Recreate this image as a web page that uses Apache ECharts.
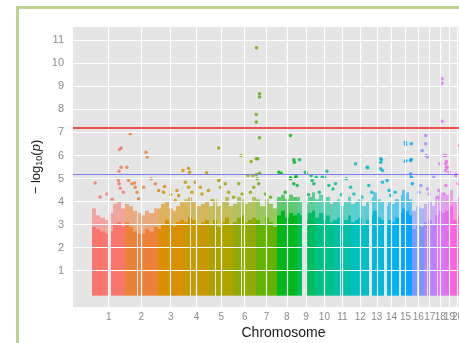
<!DOCTYPE html>
<html>
<head>
<meta charset="utf-8">
<script src="https://cdn.jsdelivr.net/npm/echarts@6/dist/echarts.min.js"></script>
<style>
  html, body { margin: 0; padding: 0; background: #fff; }
  #chart { width: 459px; height: 343px; }
</style>
</head>
<body>
<div id="chart"></div>
<script>
// chromosome lengths (Mb) and tick labels
const CHR_LEN = [249, 243, 198, 191, 181, 171, 159, 146, 141, 136, 135, 134, 115, 107, 103, 90, 81, 78, 59, 63, 48, 51]
const CHR_LABELS = ['1', '2', '3', '4', '5', '6', '7', '8', '9', '10', '11', '12', '13', '14', '15', '16', '17', '18', '19', '20', '21', '22']
const Y_TICKS = [1, 2, 3, 4, 5, 6, 7, 8, 9, 10, 11]
const GENOME_WIDE = 7.2
const SUGGESTIVE = 5.2

// top of the dense SNP cloud, per chromosome, in equal segments
const BODY_SOLID = [
  [2.9, 2.8, 2.7, 2.6, 2.7, 3.0, 3.1, 2.9],
  [3.1, 2.9, 2.7, 2.6, 2.6, 2.8, 2.7, 2.9],
  [2.8, 3.0, 3.2, 3.0, 2.9, 3.1, 3.2],
  [3.1, 3.3, 3.2, 3.0, 3.1, 3.2],
  [3.0, 3.2, 2.9, 3.1, 3.3, 3.0],
  [3.1, 3.3, 3.4, 3.1, 3.2, 3.3],
  [3.2, 3.0, 3.3, 3.1, 2.9],
  [3.4, 3.6, 3.3, 3.5, 3.4],
  [3.5, 3.4, 3.2, 3.5, 3.6],
  [3.3, 3.5, 3.2, 3.4, 3.1],
  [3.2, 3.3, 3.0, 3.2, 3.4],
  [3.1, 3.2, 3.3, 3.0, 3.2],
  [3.4, 3.6, 3.3, 3.2],
  [3.0, 3.2, 3.1, 3.3],
  [3.5, 3.7, 3.6, 3.4],
  [2.8, 3.0, 2.9],
  [3.1, 3.2, 3.0],
  [3.4, 3.6, 3.5],
  [3.6, 3.8],
  [3.2, 3.4],
  [3.1, 3.0],
  [3.0, 3.2]
]
// top of the speckled (thinner) part of the cloud
const BODY_SPECKLE = [
  [3.7, 3.4, 3.3, 3.2, 3.5, 3.9, 4.0, 3.7],
  [3.9, 3.8, 3.6, 3.5, 3.4, 3.6, 3.5, 3.7],
  [3.7, 3.9, 4.0, 3.7, 3.6, 3.8, 4.0],
  [4.1, 4.2, 4.0, 3.8, 3.9, 4.0],
  [3.8, 4.1, 3.8, 4.0, 4.2, 3.8],
  [3.9, 4.2, 4.1, 3.9, 4.0, 4.2],
  [4.1, 3.8, 4.1, 3.9, 3.7],
  [4.2, 4.3, 4.1, 4.3, 4.2],
  [4.2, 4.0, 3.9, 4.2, 4.4],
  [4.1, 4.3, 4.0, 4.2, 3.9],
  [4.0, 4.1, 3.8, 4.0, 4.2],
  [3.9, 4.0, 4.1, 3.8, 4.0],
  [4.2, 4.4, 4.1, 4.0],
  [3.8, 4.0, 3.9, 4.1],
  [4.3, 4.5, 4.4, 4.1],
  [3.6, 3.8, 3.7],
  [3.9, 4.0, 3.8],
  [4.2, 4.4, 4.3],
  [4.3, 4.5],
  [4.0, 4.2],
  [3.8, 3.7],
  [3.7, 3.9]
]
// regions without SNPs: [chr, start Mb, end Mb]
const GAPS = [
  [1, 121, 143], [2, 90, 96], [3, 90, 94], [4, 49, 53], [5, 46, 50], [6, 58, 62],
  [7, 58, 62], [8, 43, 47], [9, 39, 70], [10, 39, 43], [11, 51, 55], [12, 34, 38],
  [13, 0, 19], [14, 0, 19], [15, 0, 20], [16, 35, 46], [17, 22, 25], [18, 15, 19],
  [19, 24, 28], [20, 26, 30], [21, 0, 14], [22, 0, 16]
]
// single SNPs standing out of the cloud: [chr, position Mb, -log10(p)]
const PEAKS = [
  [1, 23, 4.81], [1, 60, 4.2], [1, 111, 4.33], [1, 150, 4.1], [1, 198, 4.91], [1, 203, 4.77], [1, 211, 4.58],
  [1, 203, 5.32], [1, 206, 6.26], [1, 219, 6.32], [1, 218, 5.49], [1, 235, 4.4],
  [2, 12, 5.49], [2, 25, 4.91], [2, 38, 6.94], [2, 50, 4.77], [2, 70, 4.81], [2, 75, 4.62], [2, 88, 4.4],
  [2, 100, 4.12], [2, 138, 4.62], [2, 156, 6.14], [2, 166, 5.93], [2, 196, 4.99], [2, 226, 4.77],
  [3, 8, 4.48], [3, 45, 4.4], [3, 53, 4.65], [3, 100, 4.3], [3, 134, 4.04], [3, 146, 4.48], [3, 159, 4.26], [3, 191, 5.35],
  [4, 11, 4.84], [4, 35, 5.45], [4, 36, 4.62], [4, 43, 5.27], [4, 61, 4.4], [4, 86, 4.84], [4, 124, 4.62],
  [4, 136, 4.33], [4, 171, 5.25], [4, 185, 4.48],
  [5, 21, 4.04], [5, 71, 6.33], [5, 71, 4.91], [5, 73, 4.96], [5, 84, 4.62], [5, 121, 4.77], [5, 146, 4.4],
  [6, 3, 4.19], [6, 41, 4.77], [6, 58, 6.0], [6, 66, 4.33], [6, 110, 5.13], [6, 129, 4.4], [6, 134, 5.74],
  [6, 146, 5.13], [6, 154, 4.62],
  [7, 3, 10.68], [7, 26, 8.68], [7, 26, 8.54], [7, 2, 7.78], [7, 2, 7.45], [7, 26, 6.77], [7, 1, 5.86],
  [7, 13, 5.86], [7, 2, 5.17], [7, 26, 5.23], [7, 8, 4.99], [7, 20, 4.77], [7, 71, 4.33], [7, 109, 4.19],
  [8, 12, 5.27], [8, 30, 5.23], [8, 60, 4.4], [8, 100, 6.87], [8, 100, 5.03], [8, 100, 4.99], [8, 125, 5.81],
  [8, 125, 4.77], [8, 130, 5.71], [8, 138, 5.06], [8, 143, 5.09],
  [9, 5, 4.7], [9, 22, 5.81], [9, 67, 5.27], [9, 72, 5.23], [9, 90, 4.3], [9, 110, 5.13], [9, 117, 4.91], [9, 130, 4.77],
  [10, 7, 5.06], [10, 30, 4.4], [10, 52, 5.06], [10, 70, 5.06], [10, 87, 5.32], [10, 102, 4.7], [10, 132, 4.55],
  [11, 16, 4.77], [11, 60, 4.3], [11, 97, 4.99], [11, 129, 4.62],
  [12, 19, 4.33], [12, 31, 5.64], [12, 80, 4.2], [12, 119, 5.49], [12, 124, 5.47], [12, 131, 4.7],
  [13, 20, 4.4], [13, 87, 5.86], [13, 87, 5.71], [13, 87, 5.42], [13, 92, 5.81], [13, 100, 5.35], [13, 100, 4.84],
  [14, 20, 4.91], [14, 34, 4.48], [14, 47, 4.26], [14, 80, 4.4],
  [15, 50, 6.58], [15, 52, 6.48], [15, 95, 6.51], [15, 50, 5.74], [15, 95, 5.83], [15, 90, 5.2], [15, 95, 5.06],
  [15, 53, 5.78], [15, 90, 5.78], [15, 102, 4.77],
  [16, 50, 4.4], [16, 63, 4.7], [16, 73, 6.22],
  [17, 10, 6.51], [17, 10, 6.87], [17, 15, 6.0], [17, 23, 5.93], [17, 23, 4.55], [17, 35, 4.33], [17, 71, 5.06],
  [18, 17, 4.19], [18, 29, 4.48], [18, 35, 5.64], [18, 52, 9.33], [18, 52, 9.14], [18, 52, 7.49], [18, 67, 6.0], [18, 67, 4.33],
  [19, 2, 6.0], [19, 2, 5.64], [19, 2, 5.35], [19, 2, 4.7], [19, 7, 5.74], [19, 7, 5.49], [19, 15, 5.49], [19, 27, 5.27],
  [20, 19, 5.13], [20, 24, 5.2], [20, 32, 4.77], [20, 49, 6.43]
]

// ggplot default hue palette (hcl, l = 65, c = 100)
function hcl (h, c, l) {
  const Xn = 95.047, Yn = 100, Zn = 108.883
  const un = 4 * Xn / (Xn + 15 * Yn + 3 * Zn)
  const vn = 9 * Yn / (Xn + 15 * Yn + 3 * Zn)
  const hr = h * Math.PI / 180
  const u = c * Math.cos(hr), v = c * Math.sin(hr)
  const Y = Yn * Math.pow((l + 16) / 116, 3)
  const up = u / (13 * l) + un, vp = v / (13 * l) + vn
  const X = Y * 9 * up / (4 * vp)
  const Z = Y * (12 - 3 * up - 20 * vp) / (4 * vp)
  const x = X / 100, y = Y / 100, z = Z / 100
  const lin = [
    3.2404542 * x - 1.5371385 * y - 0.4985314 * z,
    -0.9692660 * x + 1.8760108 * y + 0.0415560 * z,
    0.0556434 * x - 0.2040259 * y + 1.0572252 * z
  ]
  const hex = lin.map(t => {
    let s = t <= 0.0031308 ? 12.92 * t : 1.055 * Math.pow(t, 1 / 2.4) - 0.055
    s = Math.max(0, Math.min(1, s))
    return Math.round(s * 255).toString(16).padStart(2, '0')
  })
  return '#' + hex.join('')
}
const n = CHR_LEN.length
const colors = CHR_LEN.map((_, i) => hcl(15 + 360 * i / n, 100, 65))

// cumulative start of every chromosome
const cumStart = []
let acc = 0
CHR_LEN.forEach(len => { cumStart.push(acc); acc += len })
const total = acc
const pad = total * 0.05

// split the cloud segments around the SNP free gaps
function pieces (chr, a, b) {
  let parts = [[a, b]]
  GAPS.filter(g => g[0] === chr + 1).forEach(g => {
    const next = []
    parts.forEach(p => {
      if (g[2] <= p[0] || g[1] >= p[1]) { next.push(p); return }
      if (g[1] > p[0]) next.push([p[0], g[1]])
      if (g[2] < p[1]) next.push([g[2], p[1]])
    })
    parts = next
  })
  return parts
}

const solidData = []
const speckleData = []
CHR_LEN.forEach((len, i) => {
  const segs = BODY_SOLID[i]
  const w = len / segs.length
  segs.forEach((h, k) => {
    pieces(i, k * w, (k + 1) * w).forEach(p => {
      solidData.push([cumStart[i] + p[0], cumStart[i] + p[1], h, i])
      speckleData.push([cumStart[i] + p[0], cumStart[i] + p[1], BODY_SPECKLE[i][k], i])
    })
  })
})

const peakData = PEAKS.map(p => ({
  value: [cumStart[p[0] - 1] + p[1], p[2]],
  itemStyle: { color: colors[p[0] - 1] }
}))

function blockRenderer (opacity) {
  return function (params, api) {
    const p0 = api.coord([api.value(0), -0.08])
    const p1 = api.coord([api.value(1), api.value(2)])
    const x0 = Math.round(p0[0])
    const x1 = Math.round(p1[0])
    if (x1 <= x0) return null
    const cs = params.coordSys
    const rect = echarts.graphic.clipRectByRect(
      { x: x0, y: p1[1], width: x1 - x0, height: p0[1] - p1[1] },
      { x: cs.x, y: cs.y, width: cs.width, height: cs.height }
    )
    return rect && {
      type: 'rect',
      shape: rect,
      style: { fill: colors[api.value(3)], opacity: opacity }
    }
  }
}

const font = 'Liberation Sans, Arial, sans-serif'
const chart = echarts.init(document.getElementById('chart'))
chart.setOption({
  animation: false,
  backgroundColor: '#fff',
  textStyle: { fontFamily: font },
  graphic: [{
    type: 'rect',
    silent: true,
    shape: { x: 17.5, y: 7.5, width: 600, height: 600 },
    style: { fill: null, stroke: '#bdd193', lineWidth: 3 }
  }],
  grid: {
    left: 73,
    top: 27,
    right: -35,
    bottom: 36,
    outerBoundsMode: 'none',
    containLabel: false,
    show: true,
    backgroundColor: '#e5e5e5',
    borderWidth: 0
  },
  xAxis: {
    type: 'value',
    min: -pad,
    max: total + pad,
    axisLine: { show: false },
    axisTick: { show: false },
    axisLabel: { show: false },
    splitLine: { show: false },
    name: 'Chromosome',
    nameLocation: 'middle',
    nameGap: 19,
    nameTextStyle: { fontSize: 14, color: '#1a1a1a', fontFamily: font }
  },
  yAxis: {
    type: 'value',
    min: -0.58,
    max: 11.58,
    axisLine: { show: false },
    axisTick: { show: false },
    axisLabel: { show: false },
    splitLine: { show: false },
    name: '{t|\u2212 log}{s|10}{t|(}{i|p}{t|)}',
    nameLocation: 'middle',
    nameGap: 29,
    nameRotate: 90,
    nameTextStyle: {
      rich: {
        t: { fontSize: 13, color: '#1a1a1a', fontFamily: font },
        i: { fontSize: 13, color: '#1a1a1a', fontStyle: 'italic', fontFamily: font },
        s: { fontSize: 9, color: '#1a1a1a', fontFamily: font, padding: [6, 0, 0, 0] }
      }
    }
  },
  series: [
    {
      // panel grid lines and tick labels
      type: 'scatter',
      data: [],
      z: 1,
      silent: true,
      markLine: {
        silent: true,
        symbol: 'none',
        animation: false,
        lineStyle: { color: '#ffffff', width: 1.2, type: 'solid' },
        emphasis: { disabled: true },
        data: [
          ...Y_TICKS.map(v => ({
            yAxis: v,
            name: String(v),
            label: { show: true, position: 'start', formatter: '{b}', distance: 9, fontSize: 11, color: '#8a8a8a', fontFamily: font }
          })),
          ...CHR_LABELS.map((lab, i) => ({
            xAxis: cumStart[i] + CHR_LEN[i] / 2,
            name: lab,
            label: { show: true, position: 'start', formatter: '{b}', distance: 5, fontSize: 10, color: '#8a8a8a', fontFamily: font }
          }))
        ]
      }
    },
    {
      type: 'custom',
      renderItem: blockRenderer(0.6),
      data: speckleData,
      z: 2,
      silent: true
    },
    {
      type: 'custom',
      renderItem: blockRenderer(1),
      data: solidData,
      z: 3,
      silent: true
    },
    {
      type: 'scatter',
      data: peakData,
      z: 4,
      silent: true,
      symbolSize: 3.5,
      itemStyle: { opacity: 0.85 }
    },
    {
      // significance thresholds
      type: 'scatter',
      data: [],
      z: 5,
      silent: true,
      markLine: {
        silent: true,
        symbol: 'none',
        animation: false,
        label: { show: false },
        emphasis: { disabled: true },
        data: [
          { yAxis: GENOME_WIDE, lineStyle: { color: '#f21818', width: 1.6, type: 'solid' } },
          { yAxis: SUGGESTIVE, lineStyle: { color: '#7f7ff2', width: 1, type: 'solid' } }
        ]
      }
    }
  ]
})
</script>
</body>
</html>
